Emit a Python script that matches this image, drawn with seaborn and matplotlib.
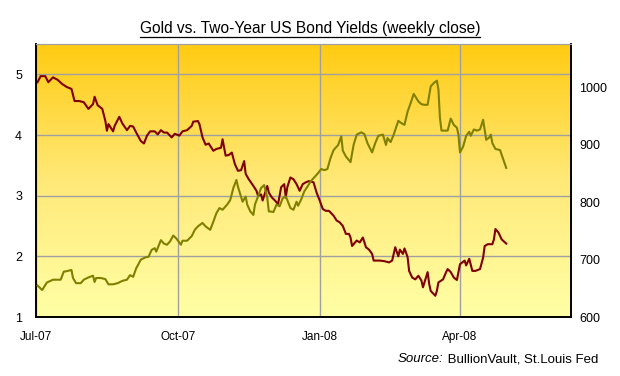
import pandas as pd
import numpy as np
import matplotlib
matplotlib.use('Agg')
import matplotlib.pyplot as plt
from matplotlib.lines import Line2D
from matplotlib.colors import LinearSegmentedColormap
import seaborn as sns

start = pd.Timestamp('2007-07-01')

# two-year US treasury yield (%), day offsets from 1 Jul 2007
yield_days = [1, 3, 6, 8, 11, 14, 17, 20, 23, 25, 28, 31, 34, 37, 38, 40, 43, 45, 46, 47,
              50, 51, 54, 56, 59, 61, 63, 65, 68, 70, 72, 74, 77, 79, 81, 83, 85, 88, 90, 93,
              95, 98, 101, 102, 105, 106, 108, 110, 112, 115, 117, 120, 121, 123, 125, 127, 129, 131, 133, 135,
              136, 138, 141, 143, 144, 146, 147, 150, 151, 153, 155, 157, 159, 161, 162, 163, 165, 167, 169, 171,
              173, 175, 177, 180, 182, 184, 186, 188, 190, 193, 195, 197, 199, 201, 203, 204, 205, 208, 210, 212,
              214, 216, 218, 219, 223, 226, 229, 231, 233, 235, 236, 238, 239, 241, 242, 244, 246, 248, 250, 251,
              254, 255, 256, 259, 260, 261, 264, 266, 267, 269, 271, 273, 275, 278, 279, 281, 283, 285, 288, 290,
              291, 293, 296, 297, 298, 300, 302, 305]
yield_vals = [4.87, 4.97, 4.97, 4.87, 4.95, 4.91, 4.84, 4.79, 4.76, 4.56, 4.56, 4.54, 4.43, 4.51, 4.63, 4.49, 4.43, 4.23, 4.07, 4.18,
              4.06, 4.15, 4.30, 4.19, 4.08, 4.15, 4.14, 4.04, 3.90, 3.86, 3.99, 4.06, 4.06, 4.01, 4.08, 4.04, 4.04, 3.96, 4.02, 3.99,
              4.06, 4.08, 4.15, 4.22, 4.23, 4.18, 3.96, 3.84, 3.86, 3.74, 3.77, 3.79, 3.93, 3.66, 3.67, 3.71, 3.52, 3.41, 3.42, 3.57,
              3.36, 3.27, 3.16, 3.08, 3.00, 3.02, 2.92, 3.16, 3.05, 2.97, 2.92, 2.86, 3.14, 3.19, 2.97, 3.14, 3.30, 3.27, 3.19, 3.08,
              3.19, 3.22, 3.24, 3.22, 3.05, 2.92, 2.78, 2.75, 2.75, 2.67, 2.59, 2.56, 2.50, 2.37, 2.37, 2.31, 2.17, 2.26, 2.23, 2.31,
              2.15, 2.11, 2.04, 1.93, 1.93, 1.92, 1.90, 1.93, 2.15, 2.00, 2.11, 2.04, 2.13, 1.99, 1.76, 1.65, 1.62, 1.68, 1.60, 1.49,
              1.74, 1.55, 1.43, 1.35, 1.43, 1.57, 1.62, 1.74, 1.79, 1.74, 1.65, 1.61, 1.87, 1.93, 1.85, 1.96, 1.76, 1.76, 1.79, 1.98,
              2.17, 2.20, 2.20, 2.28, 2.45, 2.39, 2.28, 2.21]

# gold price (US$/oz), day offsets from 1 Jul 2007
gold_days = [1, 4, 7, 11, 14, 16, 18, 20, 23, 24, 26, 29, 31, 34, 37, 38, 39, 42, 45, 47,
             50, 53, 56, 59, 61, 63, 65, 68, 71, 73, 75, 77, 78, 81, 83, 85, 87, 89, 91, 94,
             95, 98, 101, 103, 105, 108, 110, 113, 115, 117, 119, 121, 124, 126, 128, 130, 131, 133, 134, 136,
             137, 139, 141, 142, 144, 146, 148, 150, 151, 152, 154, 156, 158, 160, 162, 163, 165, 167, 169, 170,
             172, 174, 176, 178, 181, 183, 185, 187, 189, 191, 193, 196, 198, 199, 201, 204, 206, 208, 211, 213,
             215, 218, 220, 222, 225, 227, 228, 230, 232, 235, 237, 239, 241, 243, 245, 248, 250, 252, 254, 256,
             258, 260, 261, 262, 263, 266, 267, 269, 271, 273, 274, 275, 277, 279, 281, 282, 284, 286, 288, 290,
             292, 294, 295, 296, 298, 301, 302, 305]
gold_vals = [655, 647, 660, 665, 665, 665, 679, 680, 682, 668, 659, 659, 665, 669, 672, 661, 668, 668, 666, 657,
             657, 659, 663, 665, 673, 670, 685, 700, 704, 705, 717, 720, 714, 734, 728, 726, 732, 742, 737, 726,
             733, 733, 741, 752, 758, 764, 758, 752, 766, 781, 790, 787, 796, 804, 825, 839, 827, 810, 801, 810,
             796, 784, 778, 796, 810, 825, 830, 808, 784, 784, 783, 796, 793, 807, 810, 804, 790, 787, 801, 794,
             805, 819, 827, 836, 845, 851, 858, 856, 858, 877, 891, 900, 915, 890, 880, 870, 900, 918, 922, 919,
             903, 887, 903, 916, 918, 900, 912, 905, 918, 942, 938, 935, 958, 973, 989, 976, 971, 970, 970, 1002,
             1008, 1012, 997, 947, 925, 925, 925, 946, 935, 930, 918, 887, 897, 916, 923, 916, 927, 925, 927, 944,
             909, 913, 918, 903, 893, 891, 883, 860]

tick_dates = ['2007-07-01', '2007-10-01', '2008-01-01', '2008-04-01']
tick_labels = ['Jul-07', 'Oct-07', 'Jan-08', 'Apr-08']

bonds = pd.DataFrame({'date': start + pd.to_timedelta(yield_days, unit='D'), 'yield': yield_vals})
gold = pd.DataFrame({'date': start + pd.to_timedelta(gold_days, unit='D'), 'price': gold_vals})

plt.rcParams['font.family'] = ['Liberation Sans', 'DejaVu Sans']

fig = plt.figure(figsize=(6.2, 3.76), dpi=100)
ax = fig.add_axes([36 / 620, 59 / 376, 535 / 620, 273 / 376])

# gradient background
cmap = LinearSegmentedColormap.from_list('bg', ['#FFFFA6', '#FFE978', '#FFCB12'])
grad = np.linspace(0, 1, 256).reshape(-1, 1)
ax.imshow(grad, extent=[0, 1, 0, 1], transform=ax.transAxes, aspect='auto',
          cmap=cmap, origin='lower', zorder=0)

ax2 = ax.twinx()
sns.lineplot(data=bonds, x='date', y='yield', ax=ax, color='#800000', lw=1.5, zorder=3)
sns.lineplot(data=gold, x='date', y='price', ax=ax2, color='#808000', lw=1.5, zorder=3)

ax.set_xlim(start, start + pd.Timedelta(days=347))
ax.set_ylim(1, 5.5)
ax2.set_ylim(600, 1076)
ax.set_yticks([1, 2, 3, 4, 5])
ax2.set_yticks([600, 700, 800, 900, 1000])
ax.set_xticks(pd.to_datetime(tick_dates))
ax.set_xticklabels(tick_labels)

ax.set_axisbelow(True)
ax.grid(True, color='#A0A0A0', lw=1.0)
ax.set_xlabel('')
ax.set_ylabel('')
ax2.set_ylabel('')

ax.tick_params(axis='y', length=0, pad=10, labelsize=9)
ax.tick_params(axis='x', length=0, pad=10, labelsize=8.5)
ax2.tick_params(axis='y', length=0, pad=6, labelsize=9)

for a in (ax, ax2):
    a.spines['top'].set_color('#A0A0A0')
    a.spines['left'].set_color('black')
    a.spines['bottom'].set_color('black')
    a.spines['right'].set_color('black')
    a.spines['left'].set_linewidth(1.2)
    a.spines['bottom'].set_linewidth(1.2)
    a.spines['right'].set_linewidth(1.2)

title = fig.text(0.5, 1 - 28 / 376, 'Gold vs. Two-Year US Bond Yields (weekly close)',
                 ha='center', va='center', fontsize=11.2)
src = fig.text(598 / 620, 1 - 359 / 376, ' BullionVault, St.Louis Fed', ha='right', va='center',
               fontsize=9.5)

fig.canvas.draw()
r = fig.canvas.get_renderer()
tb = title.get_window_extent(r)
uy = (tb.y0 - 1) / 376
fig.add_artist(Line2D([tb.x0 / 620, tb.x1 / 620], [uy, uy], transform=fig.transFigure,
                      color='black', lw=0.9))
sb = src.get_window_extent(r)
fig.text(sb.x0 / 620, 1 - 359 / 376, 'Source:', ha='right', va='center', fontsize=9.5,
         style='italic')

fig.savefig('out.png', dpi=100)
